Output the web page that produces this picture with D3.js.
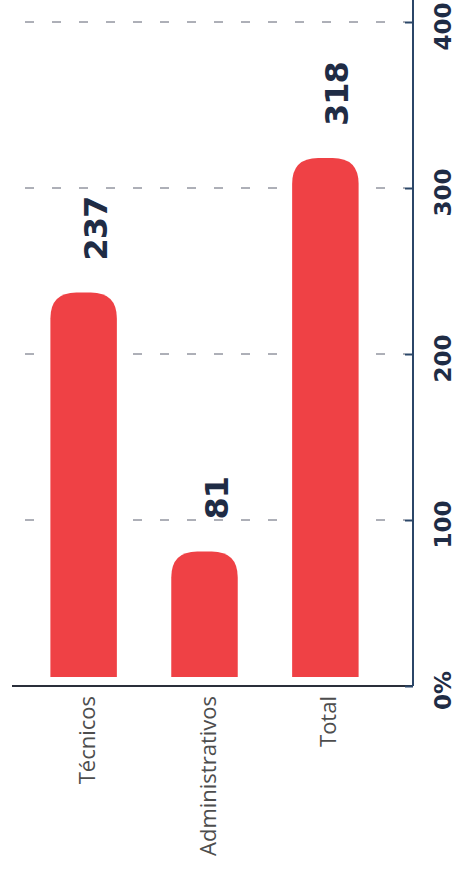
<!DOCTYPE html>
<html>
<head>
<meta charset="utf-8">
<script src="https://cdn.jsdelivr.net/npm/d3@7"></script>
<style>
  html, body { margin: 0; padding: 0; background: #fff; }
  svg { display: block; }
  .grid line { stroke: #5c6170; stroke-width: 1; stroke-dasharray: 9 18; }
</style>
</head>
<body>
<div id="chart"></div>
<script>
// dados do gráfico
const categorias = ["Técnicos", "Administrativos", "Total"];
const valores = [237, 81, 318];
const ticks = [0, 100, 200, 300, 400];

const width = 467;
const height = 874;

const corBarra = "#ef4145";
const corTexto = "#1f2c45";
const corEixo = "#2b4668";

const svg = d3.select("#chart")
  .append("svg")
  .attr("width", width)
  .attr("height", height);

// escala dos valores (vertical, de baixo pra cima)
const y = d3.scaleLinear().domain([0, 400]).range([686, 22]);

// escala das categorias (horizontal)
const x = d3.scaleBand()
  .domain(categorias)
  .range([-4, 413])
  .padding(0.45);

const eixoX = 413;

// linhas de grade tracejadas
svg.append("g")
  .attr("class", "grid")
  .selectAll("line")
  .data(ticks.filter(d => d > 0))
  .enter()
  .append("line")
  .attr("x1", 25)
  .attr("x2", eixoX - 8)
  .attr("y1", d => y(d))
  .attr("y2", d => y(d));

// barras com topo arredondado
const r = 26;
svg.append("g")
  .selectAll("path")
  .data(valores)
  .enter()
  .append("path")
  .attr("fill", corBarra)
  .attr("d", (d, i) => {
    const x0 = x(categorias[i]);
    const w = x.bandwidth();
    const yb = y(0) - 9;
    const yt = y(d);
    return `M${x0},${yb} L${x0},${yt + r} Q${x0},${yt} ${x0 + r},${yt}
            L${x0 + w - r},${yt} Q${x0 + w},${yt} ${x0 + w},${yt + r}
            L${x0 + w},${yb} Z`;
  });

// rótulos dos valores acima das barras
svg.append("g")
  .selectAll("text")
  .data(valores)
  .enter()
  .append("text")
  .attr("transform", (d, i) =>
    `translate(${x(categorias[i]) + x.bandwidth() / 2 + 23},${y(d) - 32}) rotate(-90)`)
  .attr("font-family", "'DejaVu Sans', sans-serif")
  .attr("font-weight", "bold")
  .attr("font-size", 32)
  .attr("letter-spacing", -1)
  .attr("fill", corTexto)
  .text(d => d);

// linha de base (horizontal)
svg.append("line")
  .attr("x1", 12)
  .attr("x2", eixoX)
  .attr("y1", y(0))
  .attr("y2", y(0))
  .attr("stroke", "#2a2f3a")
  .attr("stroke-width", 2);

// eixo de valores à direita
const eixo = svg.append("g")
  .attr("transform", `translate(${eixoX},0)`)
  .call(
    d3.axisRight(y)
      .tickValues(ticks)
      .tickSize(-8)
      .tickFormat(d => (d === 0 ? "0%" : d))
  );

eixo.select(".domain")
  .attr("d", `M0,0 V${y(0)}`)
  .attr("stroke", corEixo)
  .attr("stroke-width", 2);

eixo.selectAll(".tick line")
  .attr("stroke", corEixo)
  .attr("stroke-width", 2);

eixo.selectAll(".tick text")
  .attr("x", null)
  .attr("dy", null)
  .attr("transform", "translate(38,4) rotate(-90)")
  .attr("text-anchor", "middle")
  .attr("font-family", "'DejaVu Sans', sans-serif")
  .attr("font-weight", "bold")
  .attr("font-size", 23)
  .attr("fill", corTexto);

// nomes das categorias (rotacionados)
svg.append("g")
  .selectAll("text")
  .data(categorias)
  .enter()
  .append("text")
  .attr("transform", d =>
    `translate(${x(d) + x.bandwidth() / 2 + 11},${y(0) + 10}) rotate(-90)`)
  .attr("text-anchor", "end")
  .attr("font-family", "'Open Sans', sans-serif")
  .attr("font-weight", 400)
  .attr("font-size", 22)
  .attr("fill", "#4d4d4d")
  .text(d => d);
</script>
</body>
</html>
